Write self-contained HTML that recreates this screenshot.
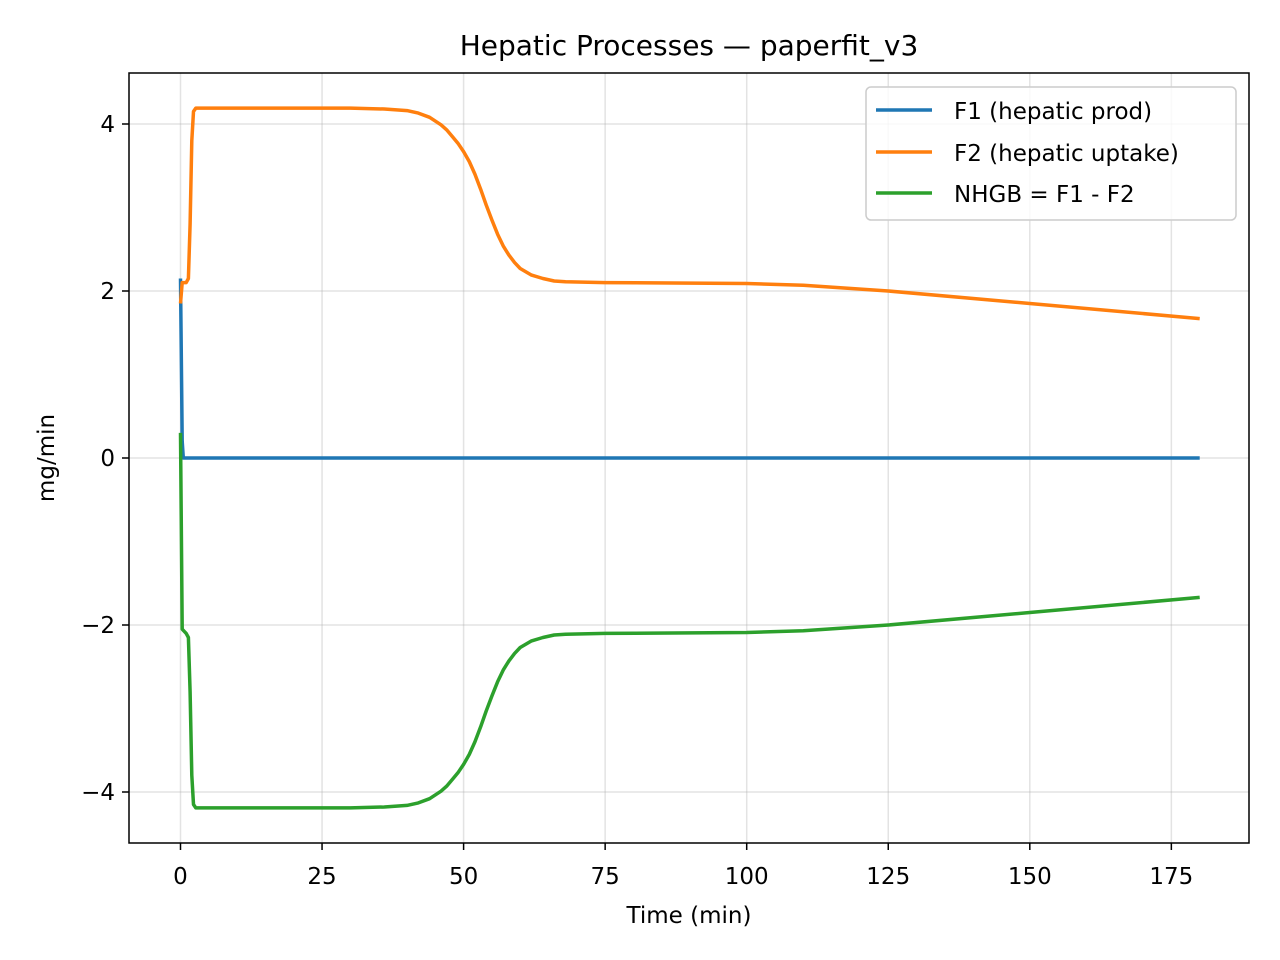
<!DOCTYPE html>
<html><head><meta charset="utf-8"><style>
body{margin:0;background:#fff;}
svg{display:block;font-family:"DejaVu Sans","Liberation Sans",sans-serif;}
</style></head><body>
<svg id="chart" width="1280" height="960" xmlns="http://www.w3.org/2000/svg">
<rect width="1280" height="960" fill="#fff"/>
<text x="689" y="55" font-size="28" text-anchor="middle">Hepatic Processes — paperfit_v3</text>
<g id="grid"></g>
<g id="series"></g>
<rect x="129" y="73" width="1120" height="770" fill="none" stroke="#000" stroke-width="1.5"/>
<g id="ticks"></g>
<text x="689" y="923" font-size="23" text-anchor="middle">Time (min)</text>
<text transform="translate(54,458) rotate(-90)" font-size="23" text-anchor="middle">mg/min</text>
<g>
<rect x="866" y="87" width="370" height="133" rx="5" fill="#fff" fill-opacity="0.8" stroke="#ccc" stroke-width="1.5"/>
<line x1="876" y1="110" x2="932" y2="110" stroke="#1f77b4" stroke-width="3.5"/>
<text x="954" y="119" font-size="23">F1 (hepatic prod)</text>
<line x1="876" y1="152" x2="932" y2="152" stroke="#ff7f0e" stroke-width="3.5"/>
<text x="954" y="161" font-size="23">F2 (hepatic uptake)</text>
<line x1="876" y1="193" x2="932" y2="193" stroke="#2ca02c" stroke-width="3.5"/>
<text x="954" y="202" font-size="23">NHGB = F1 - F2</text>
</g>
</svg>
<script>
const xTicks=[0,25,50,75,100,125,150,175];
const yTicks=[-4,-2,0,2,4];
const yTickLabels=["\u22124","\u22122","0","2","4"];
const tF1=[0,0.3,0.5,180];
const f1=[2.15,0.2,0,0];
const tF2=[0,0.3,1,1.4,1.7,2.0,2.3,2.7,10,30,36,40,42,44,46,47,48,49,50,51,52,53,54,55,56,57,58,59,60,62,64,66,68,75,100,110,125,150,180];
const f2=[1.85,2.1,2.1,2.15,2.8,3.8,4.15,4.19,4.19,4.19,4.18,4.16,4.13,4.08,3.99,3.93,3.85,3.77,3.67,3.55,3.4,3.22,3.03,2.85,2.68,2.54,2.43,2.34,2.27,2.19,2.15,2.12,2.11,2.1,2.09,2.07,2.0,1.85,1.67];
const tN=[0,0.3,1,1.4,1.7,2.0,2.3,2.7,10,30,36,40,42,44,46,47,48,49,50,51,52,53,54,55,56,57,58,59,60,62,64,66,68,75,100,110,125,150,180];
const nhgb=[0.3,-2.05,-2.1,-2.15,-2.8,-3.8,-4.15,-4.19,-4.19,-4.19,-4.18,-4.16,-4.13,-4.08,-3.99,-3.93,-3.85,-3.77,-3.67,-3.55,-3.4,-3.22,-3.03,-2.85,-2.68,-2.54,-2.43,-2.34,-2.27,-2.19,-2.15,-2.12,-2.11,-2.1,-2.09,-2.07,-2.0,-1.85,-1.67];
const NS="http://www.w3.org/2000/svg";
const sx=v=>180.5+v*5.662;
const sy=v=>458-v*83.5;
function mk(tag,attrs,parent){const e=document.createElementNS(NS,tag);for(const k in attrs)e.setAttribute(k,attrs[k]);parent.appendChild(e);return e;}
const grid=document.getElementById('grid'),ticks=document.getElementById('ticks'),ser=document.getElementById('series');
xTicks.forEach(v=>{
 const g=mk('line',{x1:sx(v),x2:sx(v),y1:73,y2:843,stroke:'#b0b0b0','stroke-opacity':0.35,'stroke-width':1.5},grid);
 
 
 mk('line',{x1:sx(v),x2:sx(v),y1:843,y2:850,stroke:'#000','stroke-width':1.5},ticks);
 const t=mk('text',{x:sx(v),y:884,'font-size':23,'text-anchor':'middle'},ticks);t.textContent=v;
 
 
});
yTicks.forEach((v,i)=>{
 const g=mk('line',{x1:129,x2:1249,y1:sy(v),y2:sy(v),stroke:'#b0b0b0','stroke-opacity':0.35,'stroke-width':1.5},grid);
 
 
 mk('line',{x1:122,x2:129,y1:sy(v),y2:sy(v),stroke:'#000','stroke-width':1.5},ticks);
 const t=mk('text',{x:115,y:sy(v)+8,'font-size':23,'text-anchor':'end'},ticks);t.textContent=yTickLabels[i];
 
 
});
function line(ts,vs,color,name){
 const d=ts.map((t,i)=>(i?'L':'M')+sx(t).toFixed(1)+','+sy(vs[i]).toFixed(1)).join('');
 const p=mk('path',{d:d,fill:'none',stroke:color,'stroke-width':3.5,'stroke-linejoin':'round'},ser);
 
 
}
line(tF1,f1,'#1f77b4','f1-line');
line(tF2,f2,'#ff7f0e','f2-line');
line(tN,nhgb,'#2ca02c','nhgb-line');
</script>
</body></html>
